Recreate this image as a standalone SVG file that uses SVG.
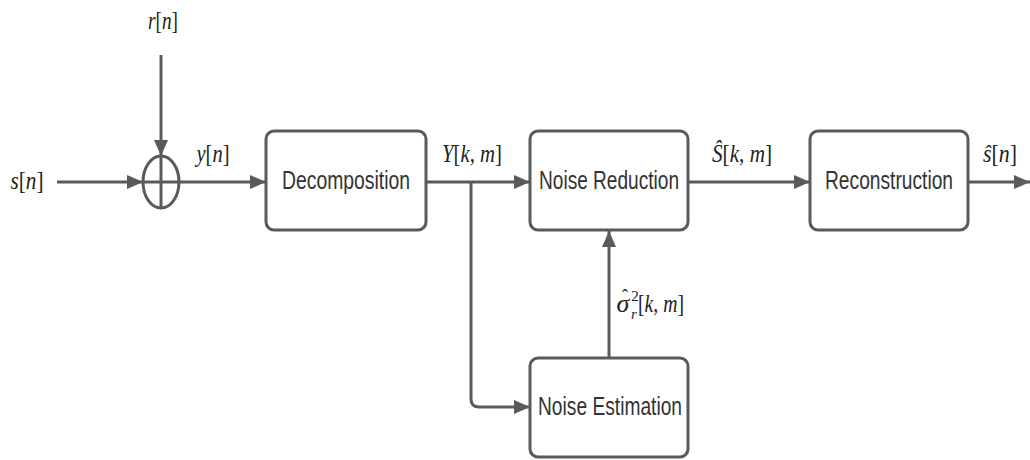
<svg xmlns="http://www.w3.org/2000/svg" width="1030" height="460" viewBox="0 0 1030 460">
<style>
.box{fill:#fff;stroke:#5a5a5a;stroke-width:3}
.lbl{font-family:"Liberation Sans",Arial,sans-serif;font-size:25px;fill:#333;text-anchor:middle}
.m{font-family:"Liberation Serif","Times New Roman",serif;font-size:26px;fill:#222;text-anchor:middle}
.s{font-family:"Liberation Serif","Times New Roman",serif;font-size:15px;fill:#222;text-anchor:middle}
.i{font-style:italic}
.w{stroke:#5a5a5a;stroke-width:3;fill:none}
</style>
<defs>
<marker id="a" markerWidth="16" markerHeight="14" refX="16" refY="7" orient="auto" markerUnits="userSpaceOnUse">
<path d="M0,0 L16,7 L0,14 Z" fill="#5a5a5a"/>
</marker>
</defs>
<rect width="1030" height="460" fill="#fff"/>
<g id="connectors">
<line class="w" x1="57" y1="182" x2="143" y2="182" marker-end="url(#a)"/>
<line class="w" x1="161" y1="55" x2="161" y2="156" marker-end="url(#a)"/>
<line class="w" x1="179" y1="182" x2="266" y2="182" marker-end="url(#a)"/>
<line class="w" x1="426" y1="182" x2="530" y2="182" marker-end="url(#a)"/>
<path class="w" d="M471,182 V399 Q471,407 479,407 H530" marker-end="url(#a)"/>
<line class="w" x1="609" y1="358" x2="609" y2="231" marker-end="url(#a)"/>
<line class="w" x1="688" y1="182" x2="810" y2="182" marker-end="url(#a)"/>
<line class="w" x1="968" y1="182" x2="1030" y2="182" marker-end="url(#a)"/>
</g>
<g id="sum">
<ellipse class="w" cx="161" cy="182" rx="18" ry="26"/>
<line class="w" x1="161" y1="156" x2="161" y2="208"/>
<line class="w" x1="143" y1="182" x2="179" y2="182"/>
</g>
<g id="decomposition">
<rect class="box" x="266" y="131" width="160" height="99" rx="8"/>
<text class="lbl" x="346" y="189" textLength="128" lengthAdjust="spacingAndGlyphs">Decomposition</text>
</g>
<g id="noise-reduction">
<rect class="box" x="530" y="131" width="158" height="99" rx="8"/>
<text class="lbl" x="609" y="189" textLength="140" lengthAdjust="spacingAndGlyphs">Noise Reduction</text>
</g>
<g id="reconstruction">
<rect class="box" x="810" y="131" width="158" height="99" rx="8"/>
<text class="lbl" x="889" y="189" textLength="128" lengthAdjust="spacingAndGlyphs">Reconstruction</text>
</g>
<g id="noise-estimation">
<rect class="box" x="530" y="358" width="158" height="99" rx="8"/>
<text class="lbl" x="610" y="415" textLength="144" lengthAdjust="spacingAndGlyphs">Noise Estimation</text>
</g>
<g id="labels">
<text class="m" x="27" y="189" textLength="33" lengthAdjust="spacingAndGlyphs"><tspan class="i">s</tspan>[<tspan class="i">n</tspan>]</text>
<text class="m" x="163" y="29" textLength="30" lengthAdjust="spacingAndGlyphs"><tspan class="i">r</tspan>[<tspan class="i">n</tspan>]</text>
<text class="m" x="213" y="162" textLength="33" lengthAdjust="spacingAndGlyphs"><tspan class="i">y</tspan>[<tspan class="i">n</tspan>]</text>
<text class="m" x="472" y="162" textLength="60" lengthAdjust="spacingAndGlyphs"><tspan class="i">Y</tspan>[<tspan class="i">k</tspan>, <tspan class="i">m</tspan>]</text>
<text class="m" x="742" y="162" textLength="60" lengthAdjust="spacingAndGlyphs"><tspan class="i">Ŝ</tspan>[<tspan class="i">k</tspan>, <tspan class="i">m</tspan>]</text>
<text class="m" x="1000" y="162" textLength="34" lengthAdjust="spacingAndGlyphs"><tspan class="i">ŝ</tspan>[<tspan class="i">n</tspan>]</text>
<text class="m i" x="623" y="312">σ</text>
<text class="s" x="625" y="302" style="font-size:18px">ˆ</text>
<text class="s" x="635" y="301">2</text>
<text class="s i" x="634" y="319">r</text>
<text class="m" x="661" y="312" textLength="46" lengthAdjust="spacingAndGlyphs">[<tspan class="i">k</tspan>, <tspan class="i">m</tspan>]</text>
</g>
</svg>
